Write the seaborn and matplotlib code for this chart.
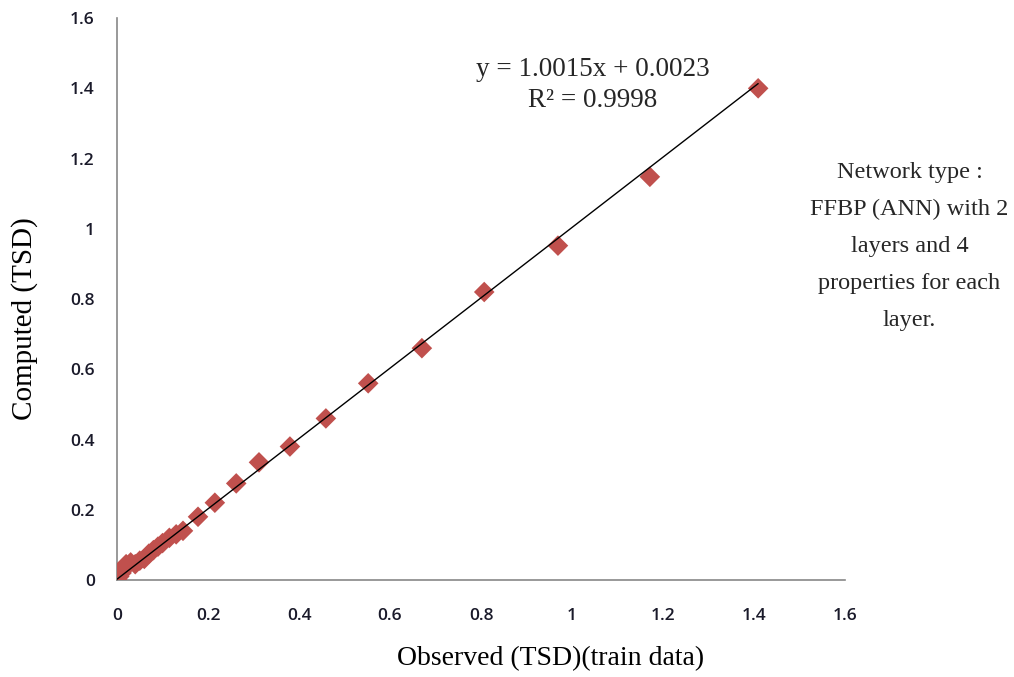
import matplotlib
matplotlib.use("Agg")
import matplotlib.pyplot as plt
import seaborn as sns
import numpy as np
import pandas as pd

observed = [0.0, 0.005, 0.01, 0.015, 0.02, 0.03, 0.04, 0.05, 0.06, 0.07, 0.08, 0.09,
            0.10, 0.115, 0.13, 0.145, 0.178, 0.215, 0.262, 0.312, 0.380, 0.459,
            0.552, 0.670, 0.807, 0.969, 1.171, 1.409]
computed = [0.0, 0.01, 0.02, 0.035, 0.045, 0.05, 0.045, 0.055, 0.06, 0.075, 0.085, 0.095,
            0.105, 0.12, 0.13, 0.14, 0.18, 0.22, 0.275, 0.335, 0.38, 0.46,
            0.56, 0.66, 0.82, 0.952, 1.148, 1.40]
slope = 1.0015
intercept = 0.0023
r2 = 0.9998
ticks = [0, 0.2, 0.4, 0.6, 0.8, 1, 1.2, 1.4, 1.6]
tick_labels = ["0", "0.2", "0.4", "0.6", "0.8", "1", "1.2", "1.4", "1.6"]

df = pd.DataFrame({"obs": observed, "comp": computed})
xs = np.array([min(observed), max(observed)])
line_df = pd.DataFrame({"x": xs, "y": slope * xs + intercept})

sns.set_style("white")
fig = plt.figure(figsize=(10.14, 6.77), dpi=100)
ax = fig.add_axes([0.1154, 0.1433, 0.718, 0.830])

sns.scatterplot(data=df, x="obs", y="comp", marker="D", s=110, color="#C0504D",
                edgecolor="none", ax=ax, zorder=3)
sns.lineplot(data=line_df, x="x", y="y", color="black", linewidth=1.0, ax=ax, zorder=4)

ax.set_xlim(0, 1.6)
ax.set_ylim(0, 1.6)
ax.set_xticks(ticks)
ax.set_yticks(ticks)
tick_font = dict(family="Open Sans", size=12.5, weight="semibold", color="#1a1a2a")
ax.set_xticklabels(tick_labels, **tick_font)
ax.set_yticklabels(tick_labels, **tick_font)
ax.tick_params(axis="both", direction="out", length=7, width=1, color="#888888")
ax.tick_params(axis="y", pad=9)
ax.tick_params(axis="x", pad=13)
for side in ["top", "right"]:
    ax.spines[side].set_visible(False)
for side in ["left", "bottom"]:
    ax.spines[side].set_color("#888888")
    ax.spines[side].set_linewidth(1.2)

label_font = dict(family="Liberation Serif", color="black")
ax.set_xlabel("Observed (TSD)(train data)", size=20, **label_font)
ax.set_ylabel("Computed (TSD)", size=21, **label_font)
ax.xaxis.set_label_coords(0.596, -0.118)
ax.yaxis.set_label_coords(-0.108, 0.466)

ax.text(1.046, 1.49, f"y = {slope}x + {intercept:.4f}\nR² = {r2}", ha="center", va="top",
        family="Liberation Serif", size=19.5, linespacing=1.35)

fig.text(0.897, 0.636, "Network type :\nFFBP (ANN) with 2\nlayers and 4\nproperties for each\nlayer.",
         ha="center", va="center", family="Liberation Serif", size=17.5, linespacing=2.0)

fig.savefig("out.png", dpi=100, facecolor="white")
